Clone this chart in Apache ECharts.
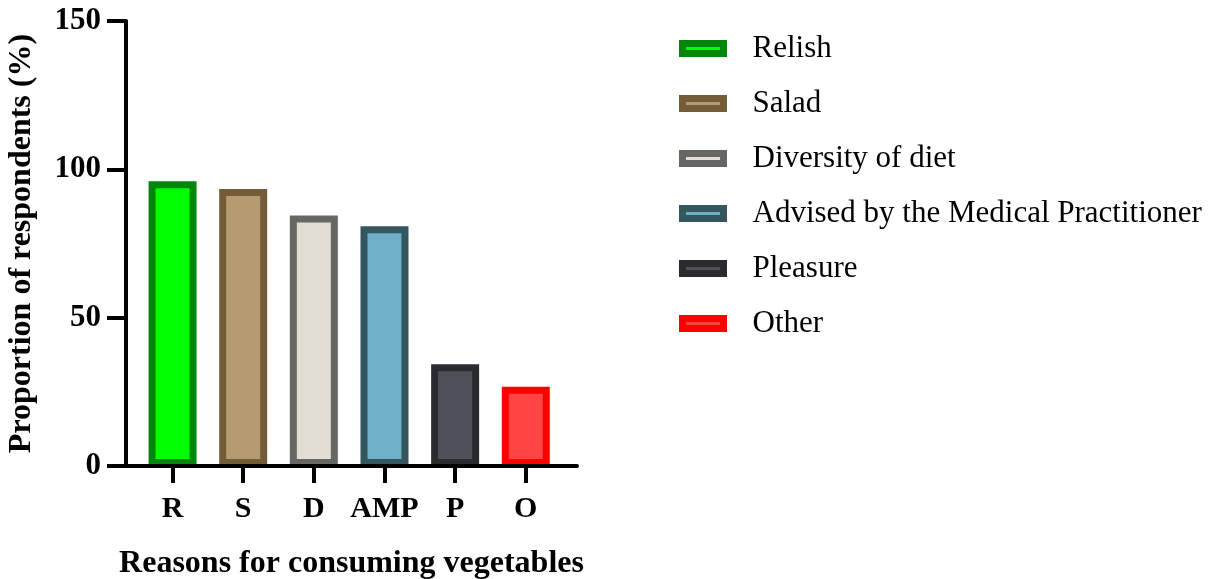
<!DOCTYPE html>
<html>
<head>
<meta charset="utf-8">
<script src="https://cdn.jsdelivr.net/npm/echarts@6/dist/echarts.min.js"></script>
<style>
  html, body { margin: 0; padding: 0; background: #fff; }
  #chart { width: 1218px; height: 579px; }
</style>
</head>
<body>
<div id="chart"></div>
<script>
// categories (short axis labels) and legend names
var categories = ['R', 'S', 'D', 'AMP', 'P', 'O']
var legendNames = ['Relish', 'Salad', 'Diversity of diet', 'Advised by the Medical Practitioner', 'Pleasure', 'Other']
// proportion of respondents (%)
var values = [96, 93.4, 84.4, 80.8, 34.3, 26.7]
var yTicks = [0, 50, 100, 150]

var fills = ['#00ff00', '#b59b6f', '#e2ddd3', '#6fafc8', '#4e5158', '#ff4444']
var borders = ['#00860b', '#735c37', '#666663', '#33565f', '#2a2b2e', '#ff0000']

var font = 'Liberation Serif, Times New Roman, serif'
var positions = categories.map(function (c, i) { return i })

var series = legendNames.map(function (name, i) {
  return {
    name: name,
    type: 'bar',
    barWidth: 48,
    barGap: '-100%',
    data: [[i, values[i]]],
    itemStyle: {
      color: fills[i],
      borderColor: borders[i],
      borderWidth: 7
    },
    emphasis: { disabled: true }
  }
})

var chart = echarts.init(document.getElementById('chart'))
chart.setOption({
  animation: false,
  grid: { left: 126, right: 641, top: 21, bottom: 113, outerBoundsMode: 'none', containLabel: false },
  legend: {
    orient: 'vertical',
    left: 674,
    top: 28,
    itemWidth: 41,
    itemHeight: 10,
    itemGap: 24,
    icon: 'rect',
    itemStyle: { borderWidth: 7 },
    textStyle: {
      fontFamily: font,
      fontSize: 31,
      color: '#000',
      lineHeight: 30,
      padding: [0, 0, 0, 24]
    },
    data: legendNames
  },
  xAxis: {
    type: 'value',
    min: -0.659,
    max: 5.725,
    z: 5,
    name: 'Reasons for consuming vegetables',
    nameLocation: 'middle',
    nameGap: 82,
    nameTextStyle: { fontFamily: font, fontSize: 32, fontWeight: 'bold', color: '#000' },
    splitLine: { show: false },
    axisLine: { onZero: false, lineStyle: { color: '#000', width: 4 } },
    axisTick: { customValues: positions, length: 17, lineStyle: { color: '#000', width: 4 } },
    axisLabel: {
      customValues: positions,
      margin: 28,
      fontFamily: font,
      fontSize: 30,
      fontWeight: 'bold',
      color: '#000',
      formatter: function (v) { return categories[Math.round(v)] }
    }
  },
  yAxis: {
    type: 'value',
    min: 0,
    max: 150,
    interval: 50,
    z: 5,
    name: 'Proportion of respondents (%)',
    nameLocation: 'middle',
    nameGap: 88,
    nameTextStyle: { fontFamily: font, fontSize: 32, fontWeight: 'bold', color: '#000' },
    splitLine: { show: false },
    axisLine: { show: true, onZero: false, lineStyle: { color: '#000', width: 4 } },
    axisTick: { show: true, length: 19, lineStyle: { color: '#000', width: 4 } },
    axisLabel: {
      margin: 25,
      fontFamily: font,
      fontSize: 31,
      fontWeight: 'bold',
      color: '#000',
      customValues: yTicks
    }
  },
  series: series
})
</script>
</body>
</html>
